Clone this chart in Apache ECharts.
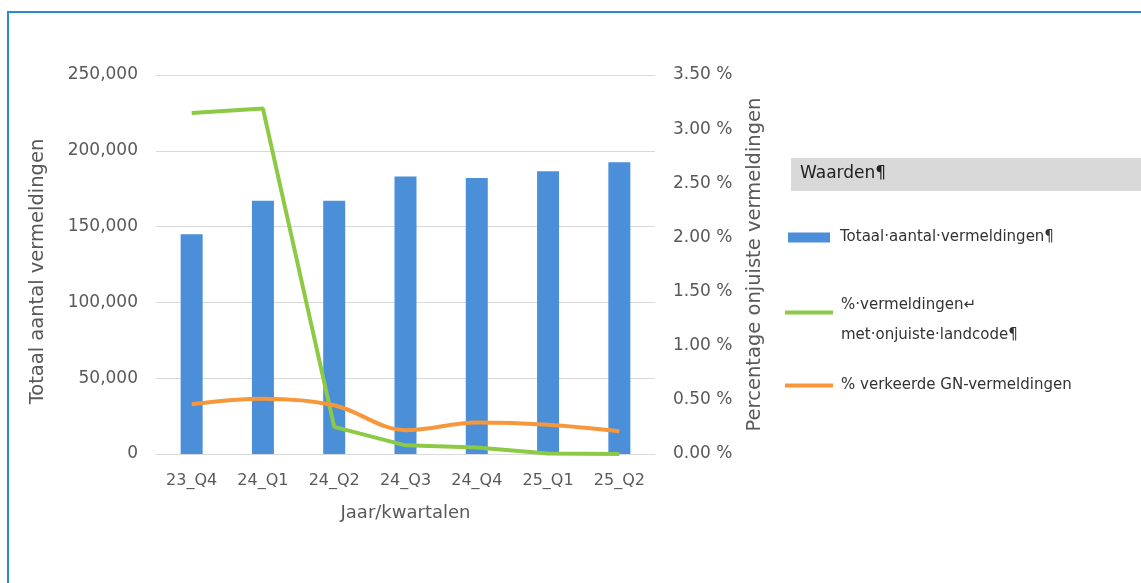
<!DOCTYPE html>
<html>
<head>
<meta charset="utf-8">
<script src="https://cdn.jsdelivr.net/npm/echarts@6/dist/echarts.min.js"></script>
<style>
  html, body { margin: 0; padding: 0; background: #fff; }
  #chart { width: 1141px; height: 583px; }
</style>
</head>
<body>
<div id="chart"></div>
<script>
// kwartalen en waarden
const quarters = ['23_Q4', '24_Q1', '24_Q2', '24_Q3', '24_Q4', '25_Q1', '25_Q2']
const totals = [145000, 167000, 167000, 183000, 182000, 186500, 192500]
const wrongCountry = [3.15, 3.19, 0.25, 0.08, 0.06, 0.005, 0.0]
const wrongGN = [0.46, 0.51, 0.45, 0.22, 0.29, 0.27, 0.21]

const leftTicks = [0, 50000, 100000, 150000, 200000, 250000]
const rightTicks = [0, 0.5, 1, 1.5, 2, 2.5, 3, 3.5]

const names = ['Totaal aantal vermeldingen', '% vermeldingen met onjuiste landcode', '% verkeerde GN-vermeldingen']

const chart = echarts.init(document.getElementById('chart'))
const grey = '#595959'
const font = 'DejaVu Sans, Verdana, sans-serif'

const option = {
  backgroundColor: '#ffffff',
  animation: false,
  color: ['#4a8fd8', '#8cc945', '#f7973a'],
  grid: { left: 156, right: 486, top: 75, bottom: 129 },
  legend: [{
    data: [names[0]],
    left: 788, top: 230, padding: 0,
    itemWidth: 42, itemHeight: 10,
    icon: 'rect',
    formatter: () => 'Totaal·aantal·vermeldingen¶',
    textStyle: { color: '#333', fontSize: 15, fontFamily: font, padding: [0, 0, 0, 5] }
  }, {
    data: [names[1]],
    left: 785, top: 298, padding: 0,
    itemWidth: 48, itemHeight: 4,
    icon: 'rect',
    formatter: () => '{a|%·vermeldingen↵}\n{b|met·onjuiste·landcode¶}',
    textStyle: {
      color: '#333', fontSize: 15, fontFamily: font, padding: [0, 0, 0, 3],
      rich: {
        a: { color: '#333', fontSize: 15, fontFamily: font, lineHeight: 46 },
        b: { color: '#333', fontSize: 15, fontFamily: font, lineHeight: 14 }
      }
    }
  }, {
    data: [names[2]],
    left: 785, top: 378, padding: 0,
    itemWidth: 48, itemHeight: 4,
    icon: 'rect',
    formatter: () => '% verkeerde GN-vermeldingen',
    textStyle: { color: '#333', fontSize: 15, fontFamily: font, padding: [0, 0, 0, 3] }
  }],
  graphic: [
    { type: 'rect', shape: { x: 8, y: 12, width: 2000, height: 2000 }, style: { fill: 'none', stroke: '#2b88d8', lineWidth: 2 } },
    { type: 'rect', shape: { x: 791, y: 158, width: 360, height: 33 }, style: { fill: '#d9d9d9' } },
    { type: 'text', left: 800, top: 165, style: { text: 'Waarden¶', fill: '#222', font: '17px ' + font } }
  ],
  xAxis: {
    type: 'category',
    data: quarters,
    name: 'Jaar/kwartalen',
    nameLocation: 'middle',
    nameGap: 50,
    nameTextStyle: { color: grey, fontSize: 18, fontFamily: font },
    axisLine: { lineStyle: { color: '#d9d9d9' } },
    axisTick: { show: false },
    axisLabel: { color: grey, fontSize: 16, fontFamily: font, margin: 19 }
  },
  yAxis: [{
    type: 'value',
    min: 0, max: leftTicks[leftTicks.length - 1], interval: leftTicks[1] - leftTicks[0],
    name: 'Totaal aantal vermeldingen',
    nameLocation: 'middle',
    nameGap: 108,
    nameTextStyle: { color: grey, fontSize: 19.5, fontFamily: font, padding: [0, 14, 0, 0] },
    axisLine: { show: false },
    axisTick: { show: false },
    axisLabel: {
      color: grey, fontSize: 17, fontFamily: font, margin: 18,
      formatter: v => v.toLocaleString('en-US')
    },
    splitLine: { lineStyle: { color: '#d9d9d9', width: 1 } }
  }, {
    type: 'value',
    min: 0, max: rightTicks[rightTicks.length - 1], interval: rightTicks[1] - rightTicks[0],
    name: 'Percentage onjuiste vermeldingen',
    nameLocation: 'middle',
    nameGap: 90,
    nameRotate: 90,
    nameTextStyle: { color: grey, fontSize: 19.5, fontFamily: font },
    axisLine: { show: false },
    axisTick: { show: false },
    axisLabel: {
      color: grey, fontSize: 17, fontFamily: font, margin: 18,
      formatter: v => v.toFixed(2) + ' %'
    },
    splitLine: { show: false }
  }],
  series: [{
    name: names[0],
    type: 'bar',
    data: totals,
    barWidth: 22,
    yAxisIndex: 0
  }, {
    name: names[1],
    type: 'line',
    data: wrongCountry,
    yAxisIndex: 1,
    symbol: 'none',
    lineStyle: { width: 4 }
  }, {
    name: names[2],
    type: 'line',
    data: wrongGN,
    yAxisIndex: 1,
    smooth: 0.35,
    symbol: 'none',
    lineStyle: { width: 4 }
  }]
}

chart.setOption(option, true)
</script>
</body>
</html>
